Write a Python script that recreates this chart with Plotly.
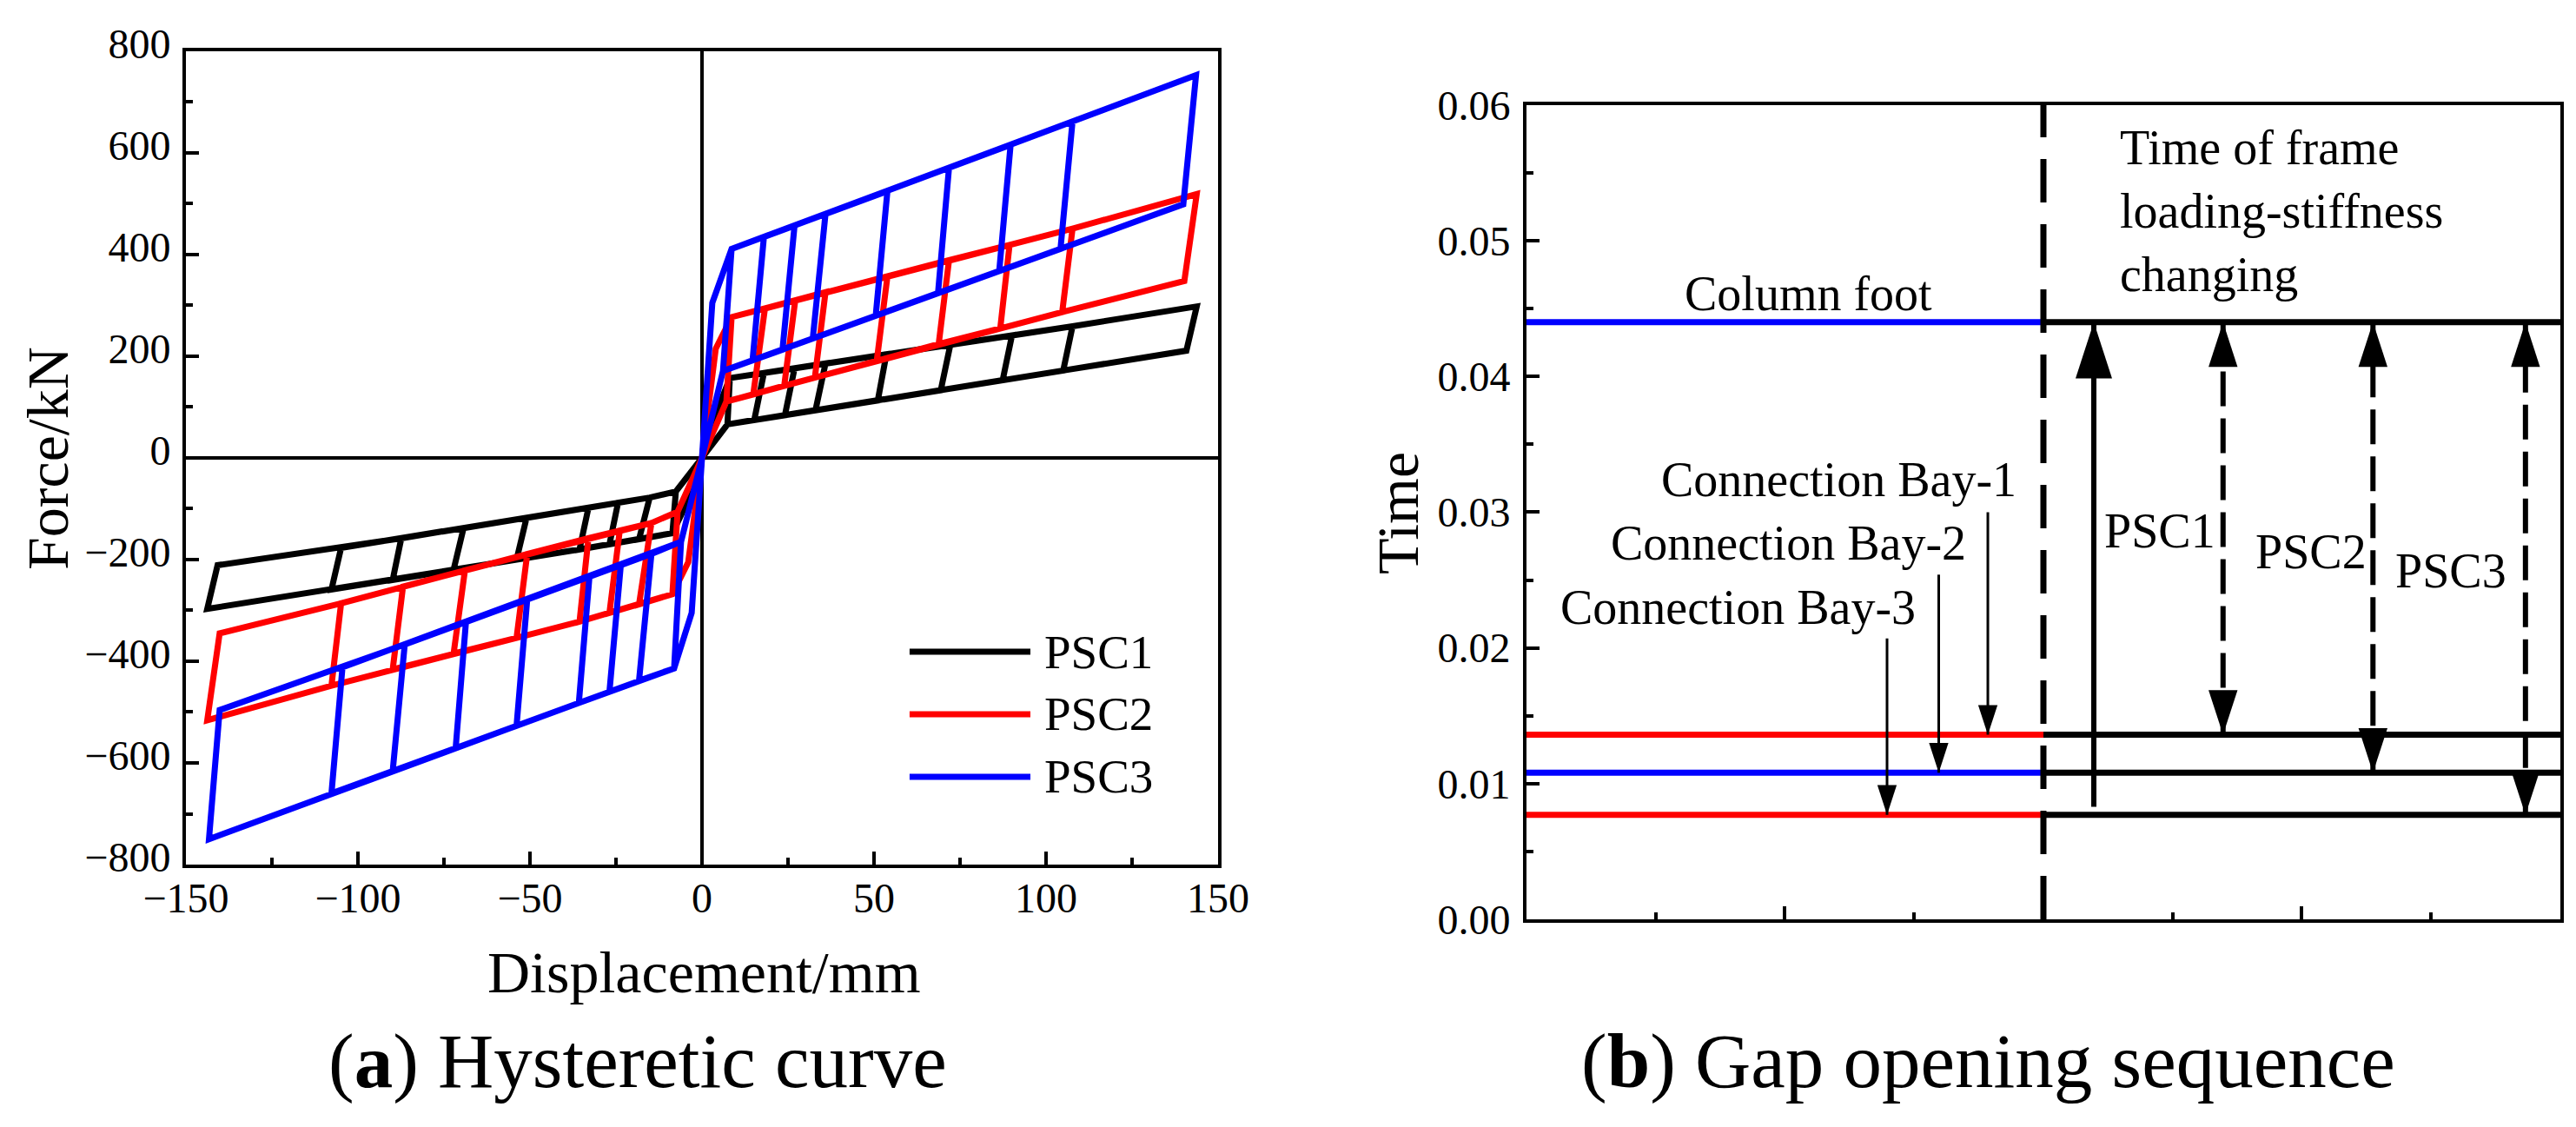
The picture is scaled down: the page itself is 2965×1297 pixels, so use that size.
import plotly.graph_objects as go

FONT = "Liberation Serif"
BLACK = "#000000"
RED = "#FF0000"
BLUE = "#0000FF"

# ---- (a) hysteretic curves (mm, kN) ----
# knee of the initial steep branch
psc1_knee = [(4.5, 95), (-4.5, -90)]
psc2_knee = [(4.0, 215), (-4.0, -205)]
psc3_knee = [(3.0, 305), (-3.0, -305)]

# peaks on the loading line and end of unloading on the lower line
psc1_pos_peak_x = [8.1, 18.0, 26.9, 35.9, 53.6, 72.2, 90.1, 107.7, 143.8]
psc1_pos_peak_f = [157, 167, 176, 186, 204, 223, 241, 259, 298]
psc1_pos_unl_x = [7.4, 15.2, 24.1, 33.0, 51.1, 69.4, 87.4, 105.0, 140.8]
psc1_pos_unl_f = [66, 75, 84, 94, 113, 133, 153, 172, 211]
psc1_neg_peak_x = [-8.6, -18.3, -26.9, -35.6, -53.9, -72.2, -89.9, -107.7, -143.8]
psc1_neg_peak_f = [-148, -160, -170, -180, -200, -220, -240, -259, -297]
psc1_neg_unl_x = [-7.6, -15.2, -24.4, -33.0, -51.0, -69.3, -87.4, -104.9, -140.8]
psc1_neg_unl_f = [-66, -78, -88, -98, -118, -138, -158, -177, -211]

psc2_pos_peak_x = [8.6, 18.3, 27.1, 35.9, 53.9, 71.8, 89.4, 107.7, 143.8]
psc2_pos_peak_f = [277, 294, 310, 326, 357, 389, 419, 451, 519]
psc2_pos_unl_x = [7.1, 14.9, 23.9, 32.8, 50.8, 68.8, 86.7, 104.7, 140.2]
psc2_pos_unl_f = [111, 125, 142, 158, 191, 224, 255, 287, 348]
psc2_neg_peak_x = [-8.6, -18.3, -26.9, -35.6, -53.9, -72.2, -89.9, -107.7, -143.8]
psc2_neg_peak_f = [-268, -288, -305, -322, -354, -385, -416, -448, -516]
psc2_neg_unl_x = [-7.1, -14.7, -23.9, -33.0, -50.8, -68.9, -86.9, -104.9, -140.2]
psc2_neg_unl_f = [-106, -128, -143, -158, -189, -221, -253, -286, -345]

psc3_pos_peak_x = [8.6, 18.0, 26.9, 35.9, 53.9, 71.8, 89.7, 107.7, 143.6]
psc3_pos_peak_f = [411, 435, 457, 480, 525, 571, 616, 662, 753]
psc3_pos_unl_x = [6.1, 14.7, 23.4, 32.2, 50.5, 68.6, 86.4, 104.2, 139.9]
psc3_pos_unl_f = [171, 192, 213, 235, 280, 324, 368, 411, 499]
psc3_neg_peak_x = [-8.1, -18.3, -26.9, -35.8, -53.9, -71.6, -89.9, -107.7, -143.3]
psc3_neg_peak_f = [-414, -438, -460, -482, -527, -571, -616, -660, -750]
psc3_neg_unl_x = [-6.1, -14.7, -23.6, -32.7, -50.8, -68.6, -86.4, -104.5, -140.2]
psc3_neg_unl_f = [-165, -189, -211, -233, -278, -322, -367, -412, -496]

# ---- (b) gap opening sequence ----
event_names = ["Column foot", "Connection Bay-1", "Connection Bay-2", "Connection Bay-3"]
event_times = [0.044, 0.0136, 0.0108, 0.0077]
event_colors = [BLUE, RED, BLUE, RED]
seq_x = [0, 4, 8]  # left edge, stiffness-change divider, right edge

bay_arrow_x = [3.57, 3.19, 2.79]
bay_arrow_from = [0.0300, 0.0254, 0.0207]
psc_names = ["PSC1", "PSC2", "PSC3"]
psc1_arrow_x = 4.39
psc1_arrow_from = 0.0083
psc_dash_arrow_x = [5.39, 6.55, 7.73]


def hysteresis(knee, pp_x, pp_f, pu_x, pu_f, np_x, np_f, nu_x, nu_f):
    xs, ys = [0.0], [0.0]
    for i in range(len(pp_x)):
        xs += [knee[0][0]] + pp_x[:i + 1] + pu_x[i::-1] + [0.0]
        ys += [knee[0][1]] + pp_f[:i + 1] + pu_f[i::-1] + [0.0]
        xs += [knee[1][0]] + np_x[:i + 1] + nu_x[i::-1] + [0.0]
        ys += [knee[1][1]] + np_f[:i + 1] + nu_f[i::-1] + [0.0]
    return xs, ys


series = [
    ("PSC1", BLACK, hysteresis(psc1_knee, psc1_pos_peak_x, psc1_pos_peak_f, psc1_pos_unl_x, psc1_pos_unl_f,
                               psc1_neg_peak_x, psc1_neg_peak_f, psc1_neg_unl_x, psc1_neg_unl_f)),
    ("PSC2", RED, hysteresis(psc2_knee, psc2_pos_peak_x, psc2_pos_peak_f, psc2_pos_unl_x, psc2_pos_unl_f,
                             psc2_neg_peak_x, psc2_neg_peak_f, psc2_neg_unl_x, psc2_neg_unl_f)),
    ("PSC3", BLUE, hysteresis(psc3_knee, psc3_pos_peak_x, psc3_pos_peak_f, psc3_pos_unl_x, psc3_pos_unl_f,
                              psc3_neg_peak_x, psc3_neg_peak_f, psc3_neg_unl_x, psc3_neg_unl_f)),
]

fig = go.Figure()

for name, color, (xs, ys) in series:
    fig.add_trace(go.Scatter(x=xs, y=ys, mode="lines", name=name, showlegend=False,
                             line=dict(color=color, width=7), xaxis="x", yaxis="y"))

# horizontal event lines
for t, c in zip(event_times, event_colors):
    fig.add_trace(go.Scatter(x=seq_x[:2], y=[t, t], mode="lines", showlegend=False,
                             line=dict(color=c, width=7), xaxis="x2", yaxis="y2"))
    fig.add_trace(go.Scatter(x=seq_x[1:], y=[t, t], mode="lines", showlegend=False,
                             line=dict(color=BLACK, width=7), xaxis="x2", yaxis="y2"))

# dashed divider
fig.add_trace(go.Scatter(x=[seq_x[1], seq_x[1]], y=[0, 0.06], mode="lines", showlegend=False,
                         line=dict(color=BLACK, width=7, dash="50px,25px"), xaxis="x2", yaxis="y2"))


def arrow_heads(xs, ys, angles, size):
    fig.add_trace(go.Scatter(x=xs, y=ys, mode="markers", showlegend=False,
                             marker=dict(symbol="arrow", size=size, angle=angles, color=BLACK,
                                         opacity=1, line=dict(width=0)),
                             xaxis="x2", yaxis="y2"))


# connection bay pointers
for bx, by, t in zip(bay_arrow_x, bay_arrow_from, event_times[1:]):
    fig.add_trace(go.Scatter(x=[bx, bx], y=[by, t], mode="lines", showlegend=False,
                             line=dict(color=BLACK, width=3), xaxis="x2", yaxis="y2"))
arrow_heads(bay_arrow_x, event_times[1:], 180, 36)

# PSC1 solid arrow
fig.add_trace(go.Scatter(x=[psc1_arrow_x, psc1_arrow_x], y=[psc1_arrow_from, event_times[0]],
                         mode="lines", showlegend=False, line=dict(color=BLACK, width=6),
                         xaxis="x2", yaxis="y2"))
arrow_heads([psc1_arrow_x], [event_times[0]], 0, 68)

# PSC2/PSC3 dashed double arrows
for ax_, t in zip(psc_dash_arrow_x, event_times[1:]):
    fig.add_trace(go.Scatter(x=[ax_, ax_], y=[t, event_times[0]], mode="lines", showlegend=False,
                             line=dict(color=BLACK, width=6, dash="40px,14px"),
                             xaxis="x2", yaxis="y2"))
arrow_heads(psc_dash_arrow_x, event_times[1:], 180, 54)
arrow_heads(psc_dash_arrow_x, [event_times[0]] * 3, 0, 54)

tick_font = dict(family=FONT, size=48, color=BLACK)
axis_common = dict(showgrid=False, showline=True, linecolor=BLACK, linewidth=4, mirror=True,
                   ticks="inside", ticklen=15, tickwidth=3.5, tickcolor=BLACK, tickfont=tick_font,
                   automargin=False,
                   minor=dict(ticks="inside", ticklen=8, tickwidth=3.5, tickcolor=BLACK, showgrid=False))

fig.update_layout(
    width=2965, height=1297,
    margin=dict(l=0, r=0, t=0, b=0, autoexpand=False),
    paper_bgcolor="white", plot_bgcolor="white",
    font=dict(family=FONT, color=BLACK),
    showlegend=False,
    xaxis=dict(domain=[0.06948, 0.47015], anchor="y", range=[-150, 150], tick0=-150, dtick=50,
               zeroline=True, zerolinecolor=BLACK, zerolinewidth=3.5, ticklabelstandoff=-7,
               **{**axis_common, "minor": dict(axis_common["minor"], dtick=25, tick0=-150)}),
    yaxis=dict(domain=[0.23901, 0.96068], anchor="x", range=[-800, 800], tick0=-800, dtick=200,
               zeroline=True, zerolinecolor=BLACK, zerolinewidth=3.5, ticklabelstandoff=4,
               ticklabelshift=-9,
               **{**axis_common, "minor": dict(axis_common["minor"], dtick=100, tick0=-800)}),
    xaxis2=dict(domain=[0.58988, 0.99123], anchor="y2", range=[0, 8], tick0=0, dtick=2,
                zeroline=False, showticklabels=False,
                **{**axis_common, "minor": dict(axis_common["minor"], dtick=1, tick0=0)}),
    yaxis2=dict(domain=[0.19044, 0.91288], anchor="x2", range=[0, 0.06], tick0=0, dtick=0.01,
                tickformat=".2f", zeroline=False, ticklabelstandoff=5,
                **{**axis_common, "minor": dict(axis_common["minor"], dtick=0.005, tick0=0)}),
)

# manual legend for (a)
legend_y = [0.4279, 0.3724, 0.3169]
for (name, color, _), ly in zip(series, legend_y):
    fig.add_shape(type="line", xref="paper", yref="paper", x0=0.3504, x1=0.3973, y0=ly, y1=ly,
                  line=dict(color=color, width=7))
    fig.add_annotation(text=name, xref="paper", yref="paper", x=0.4020, y=ly, xanchor="left",
                       yanchor="middle", showarrow=False, font=dict(size=55))


def paper_text(txt, px, py, size, angle=0):
    fig.add_annotation(text=txt, xref="paper", yref="paper", x=px / 2965, y=1 - py / 1297,
                       xanchor="center", yanchor="middle", textangle=angle, showarrow=False,
                       font=dict(size=size))


# axis titles and captions
paper_text("Force/kN", 47, 520, 68, -90)
paper_text("Displacement/mm", 802, 1111, 68)
paper_text("Time", 1601, 583, 68, -90)
paper_text("(<b>a</b>) Hysteretic curve", 726, 1213, 89)
paper_text("(<b>b</b>) Gap opening sequence", 2280, 1213, 89)

# labels inside (b)
labels_b = [
    ("Column foot", 2.18, 0.0461),
    ("Connection Bay-1", 2.42, 0.0324),
    ("Connection Bay-2", 2.03, 0.0277),
    ("Connection Bay-3", 1.64, 0.0230),
    ("PSC1", 4.90, 0.0286),
    ("PSC2", 6.07, 0.0271),
    ("PSC3", 7.15, 0.0257),
]
for txt, lx, ly in labels_b:
    fig.add_annotation(text=txt, xref="x2", yref="y2", x=lx, y=ly, xanchor="center",
                       yanchor="middle", showarrow=False, font=dict(size=56))
fig.add_annotation(text="Time of frame<br>loading-stiffness<br>changing", xref="x2", yref="y2",
                   x=4.58, y=0.0522, xanchor="left", yanchor="middle", align="left",
                   showarrow=False, font=dict(size=56))

fig.write_html("out.html")
